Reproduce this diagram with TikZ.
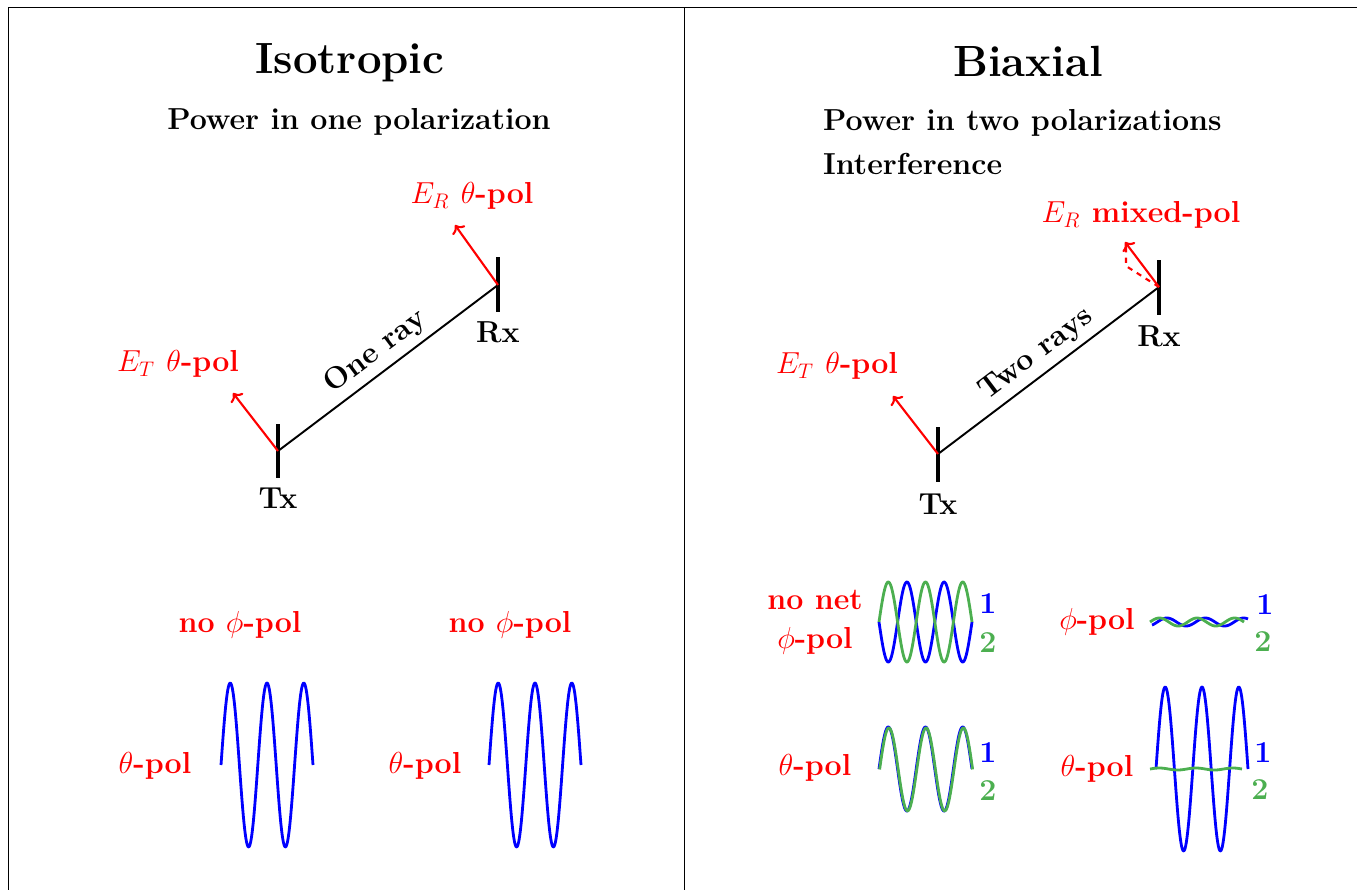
\documentclass[tikz,border=0pt]{standalone}
\usepackage{amsmath}
\usepackage{amssymb,amsfonts}
\usepackage{xcolor}
\usepackage{tikz}
\usetikzlibrary{calc,positioning,arrows.meta}

\definecolor{wavegreen}{RGB}{76,175,80}

\begin{document}
\begin{tikzpicture}[
    x=0.02cm, y=-0.02cm,
    frame/.style={draw=black, line width=0.45pt},
    head/.style={font=\Huge\bfseries},
    sub/.style={font=\LARGE\bfseries},
    lbl/.style={font=\LARGE\bfseries, text=black},
    pol/.style={font=\LARGE\bfseries, text=red, align=center},
    num/.style={font=\LARGE\bfseries},
    antenna/.style={draw=black, line width=2pt},
    ray/.style={draw=black, line width=1.1pt},
    efield/.style={draw=red, line width=1.2pt, ->},
    wave/.style={line width=1.6pt, line join=round}
]
    \useasboundingbox (0,0) rectangle (1357,890);
    \draw[frame] (8,890) -- (8,7) -- (1357,7);
    \draw[frame] (684,7) -- (684,890);

    % isotropic side
    \node[head] (isohead) at (350,63) {Isotropic};
    \node[sub] (isosub) at (359,122) {Power in one polarization};

    \coordinate (tx1) at (278,451);
    \coordinate (rx1) at (498,285);
    \coordinate (et1) at (233,393);
    \coordinate (er1) at (455,225);
    \draw[antenna] ($(tx1)+(0,-27)$) -- ($(tx1)+(0,27)$);
    \draw[antenna] ($(rx1)+(0,-28)$) -- ($(rx1)+(0,27)$);
    \draw[ray] (tx1) -- node[lbl, sloped, above, midway] {One ray} (rx1);
    \draw[efield] (tx1) -- (et1);
    \draw[efield] (rx1) -- (er1);
    \node[lbl] (tx1lbl) at (278,498) {Tx};
    \node[lbl] (rx1lbl) at (498,332) {Rx};
    \node[pol] (et1lbl) at (178,364) {$E_T$ $\theta$-pol};
    \node[pol] (er1lbl) at (472,196) {$E_R$ $\theta$-pol};

    \node[pol] (nophi1) at (240,625) {no $\phi$-pol};
    \node[pol] (nophi2) at (510,625) {no $\phi$-pol};
    \node[pol] (theta1) at (155,766) {$\theta$-pol};
    \node[pol] (theta2) at (425,766) {$\theta$-pol};
    \foreach \wx in {221,489}
        \draw[wave, draw=blue] plot[domain=0:900, samples=150] ({\wx+\x/900*92}, {765-82*sin(\x)});

    % biaxial side
    \node[head] (bihead) at (1028,61) {Biaxial};
    \node[sub, anchor=west] (bisub) at (817,123) {Power in two polarizations};
    \node[sub, anchor=west] (biint) at (817,164) {Interference};

    \coordinate (tx2) at (938,454);
    \coordinate (rx2) at (1159,287);
    \coordinate (et2) at (893,396);
    \coordinate (er2) at (1125,242);
    \coordinate (ermid) at (1126,266);
    \draw[antenna] ($(tx2)+(0,-27)$) -- ($(tx2)+(0,28)$);
    \draw[antenna] ($(rx2)+(0,-27)$) -- ($(rx2)+(0,28)$);
    \draw[ray] (tx2) -- node[lbl, sloped, above, midway] {Two rays} (rx2);
    \draw[efield] (tx2) -- (et2);
    \draw[efield] (rx2) -- (er2);
    \draw[draw=red, line width=1.2pt, dashed] (rx2) -- (ermid) -- ($(er2)+(1,3)$);
    \node[lbl] (tx2lbl) at (938,504) {Tx};
    \node[lbl] (rx2lbl) at (1159,336) {Rx};
    \node[pol] (et2lbl) at (837,366) {$E_T$ $\theta$-pol};
    \node[pol] (er2lbl) at (1141,215) {$E_R$ mixed-pol};

    % phi components
    \node[pol] (nonet) at (815,622) {no net\\$\phi$-pol};
    \draw[wave, draw=blue] plot[domain=0:900, samples=150] ({879+\x/900*93}, {622+40*sin(\x)});
    \draw[wave, draw=wavegreen] plot[domain=0:900, samples=150] ({879+\x/900*93}, {622-40*sin(\x)});
    \node[num, text=blue] (a1) at (988,604) {1};
    \node[num, text=wavegreen] (a2) at (988,643) {2};

    \node[pol] (phi) at (1097,622) {$\phi$-pol};
    \draw[wave, draw=blue] plot[domain=0:900, samples=150] ({1152+\x/900*96}, {622-4*sin(\x-50)});
    \draw[wave, draw=wavegreen] plot[domain=0:900, samples=150] ({1150+\x/900*94}, {622-4*sin(\x)});
    \node[num, text=blue] (b1) at (1265,605) {1};
    \node[num, text=wavegreen] (b2) at (1263,642) {2};

    % theta components
    \node[pol] (theta3) at (815,768) {$\theta$-pol};
    \draw[wave, draw=blue] plot[domain=0:900, samples=150] ({879+\x/900*93}, {769-42*sin(\x)});
    \draw[wave, draw=wavegreen] plot[domain=0:900, samples=150] ({879.6+\x/900*93}, {769.4-41.5*sin(\x)});
    \node[num, text=blue] (c1) at (988,753) {1};
    \node[num, text=wavegreen] (c2) at (988,791) {2};

    \node[pol] (theta4) at (1097,769) {$\theta$-pol};
    \draw[wave, draw=blue] plot[domain=0:900, samples=150] ({1156+\x/900*92}, {769-82*sin(\x)});
    \draw[wave, draw=wavegreen] plot[domain=0:900, samples=100] ({1150+\x/900*92}, {769-1*sin(\x)});
    \node[num, text=blue] (d1) at (1263,753) {1};
    \node[num, text=wavegreen] (d2) at (1260,790) {2};
\end{tikzpicture}
\end{document}
